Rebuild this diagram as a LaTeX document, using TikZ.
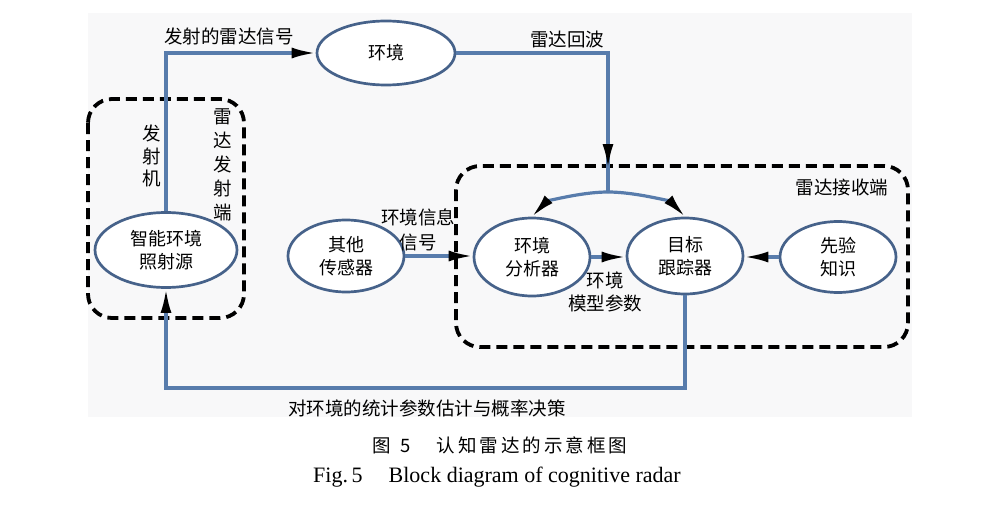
\documentclass[tikz,border=0pt]{standalone}
\usepackage{fontspec}
\setmainfont{Liberation Serif}
\newfontfamily\cjk{Noto Sans CJK SC}
\usetikzlibrary{shapes.geometric,arrows.meta}
\definecolor{conncol}{RGB}{88,124,172}
\definecolor{ellcol}{RGB}{70,98,138}
\definecolor{bgcol}{RGB}{248,248,249}
\newcommand\gapx{\hspace{3pt}}
\begin{document}
\begin{tikzpicture}[x=1pt,y=-1pt,
  ell/.style={ellipse, draw=ellcol, line width=2.7pt, fill=white, inner sep=0pt, align=center, font=\cjk\fontsize{18}{23}\selectfont},
  conn/.style={draw=conncol, line width=3.2pt},
  arr/.style={-{Latex[length=24pt,width=11pt,color=black]}},
  dbox/.style={draw=black, line width=3.8pt, dash pattern=on 11pt off 6pt, rounded corners=24pt},
  lbl/.style={font=\cjk\fontsize{18.5}{23}\selectfont, inner sep=0pt, align=center},
]
\useasboundingbox (0,0) rectangle (997,511);
\fill[bgcol] (88,13) rectangle (912,417);

% dashed groups
\draw[dbox] (88,99) rectangle (244,318);
\draw[dbox] (456,166) rectangle (908,347);

% nodes
\node[ell, minimum width=138pt, minimum height=64pt] (env) at (386,53) {环境};
\node[ell, minimum width=142pt, minimum height=75pt] (src) at (166,250) {智能环境\\照射源};
\node[ell, minimum width=116pt, minimum height=72pt] (oth) at (346,256) {其他\\传感器};
\node[ell, minimum width=116pt, minimum height=78pt] (ana) at (532,257) {环境\\分析器};
\node[ell, minimum width=116pt, minimum height=76pt] (trk) at (685,256) {目标\\跟踪器};
\node[ell, minimum width=116pt, minimum height=71pt] (pri) at (838,257) {先验\\知识};

% coordinates
\coordinate (split) at (608,192);
\coordinate (rtop) at (608,130);
\coordinate (rtip) at (608,168);
\coordinate (fby) at (0,388);

% connectors
\draw[conn, arr] (src.north) |- (env.west);
\draw[conn] (env.east) -| (split);
\draw[conn, arr] (rtop) -- (rtip);
\draw[conn, arr] (split) .. controls (580,192) and (546,202) .. (ana.north);
\draw[conn, arr] (split) .. controls (636,192) and (671,202) .. (trk.north);
\draw[conn, arr] (oth.east) -- (oth.east -| ana.west);
\draw[conn, arr] (ana.east) -- (ana.east -| trk.west);
\draw[conn, arr] (pri.west) -- (pri.west -| trk.east);
\draw[conn, arr] (trk.south) -- (trk.south |- fby) -| (src.south);

% labels
\node[lbl] (l1) at (229,36) {发射的雷达信号};
\node[lbl] (l2) at (567,39) {雷达回波};
\node[lbl, font=\cjk\fontsize{18.5}{22.5}\selectfont] (l3) at (152,156) {发\\射\\机};
\node[lbl, font=\cjk\fontsize{18.5}{24}\selectfont] (l4) at (223,165) {雷\\达\\发\\射\\端};
\node[lbl, font=\cjk\fontsize{18.5}{25}\selectfont] (l5) at (418,229.5) {环境信息\\信号};
\node[lbl] (l6) at (605,291.5) {环境\\模型参数};
\node[lbl] (l7) at (842,187) {雷达接收端};
\node[lbl, anchor=west] (l8) at (288,408) {对环境的统计参数估计与概率决策};

% captions
\node[anchor=west, inner sep=0pt, font=\cjk\fontsize{18.5}{18.5}\selectfont] (cap1) at (372,445) {图\hspace{10pt}5\hspace{26pt}认\gapx 知\gapx 雷\gapx 达\gapx 的\gapx 示\gapx 意\gapx 框\gapx 图};
\node[anchor=west, inner sep=0pt, font=\fontsize{22}{22}\selectfont] (cap2) at (313,477) {Fig.\,5\hspace{26pt}Block diagram of cognitive radar};
\end{tikzpicture}
\end{document}
